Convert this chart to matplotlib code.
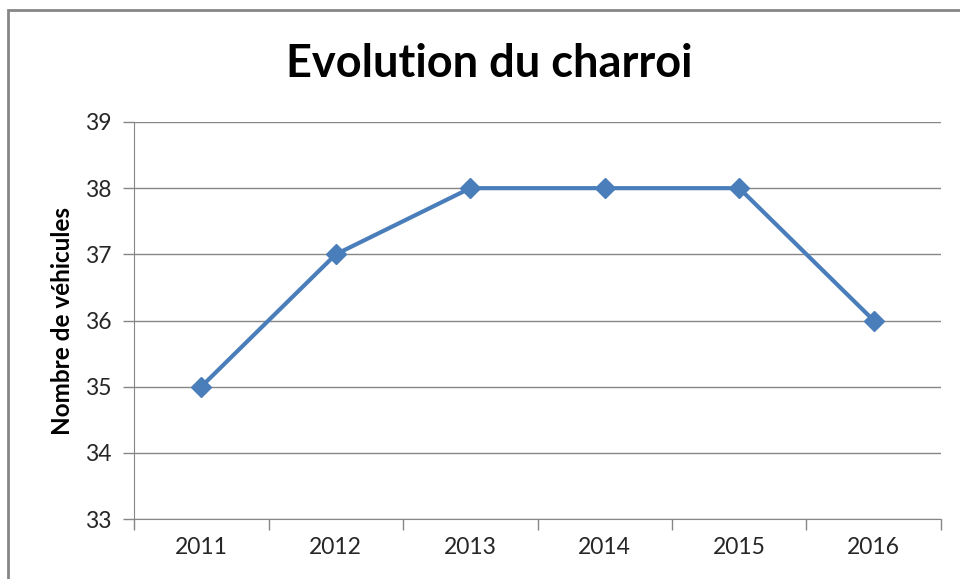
import matplotlib
matplotlib.use("Agg")
import matplotlib.pyplot as plt
from matplotlib.patches import Rectangle

annees = ["2011", "2012", "2013", "2014", "2015", "2016"]
vehicules = [35, 37, 38, 38, 38, 36]
y_ticks = [33, 34, 35, 36, 37, 38, 39]

plt.rcParams['font.family'] = ['Lato', 'DejaVu Sans']

fig = plt.figure(figsize=(9.6, 5.79), dpi=100)
ax = fig.add_axes([0.1396, 0.1036, 0.8406, 0.6857])

x = list(range(len(annees)))
ax.plot(x, vehicules, color='#4A7EBB', linewidth=3, marker='D',
        markersize=10, markerfacecolor='#4A7EBB', markeredgecolor='#4A7EBB',
        zorder=3)

ax.set_xlim(-0.5, len(annees) - 0.5)
ax.set_ylim(33, 39)
ax.set_yticks(y_ticks)
ax.set_yticklabels([str(v) for v in y_ticks], fontsize=16.5, color='#262626')
ax.set_xticks(x)
ax.set_xticklabels(annees, fontsize=16.5, color='#262626')
ax.tick_params(axis='x', length=0, pad=13)
ax.set_xticks([i - 0.5 for i in range(len(annees) + 1)], minor=True)
ax.tick_params(axis='x', which='minor', length=8, color='#868686', width=1)
ax.tick_params(axis='y', length=8, color='#868686', width=1, pad=8)

ax.grid(axis='y', color='#868686', linewidth=1)
ax.set_axisbelow(True)
for s in ['top', 'right']:
    ax.spines[s].set_visible(False)
ax.spines['left'].set_color('#868686')
ax.spines['bottom'].set_color('#868686')

ax.set_ylabel("Nombre de véhicules", fontsize=17.5, fontweight='bold', labelpad=8)
fig.text(0.51, 0.89, "Evolution du charroi", fontsize=32.5, fontweight='bold',
         ha='center', va='center')

# cadre du graphique
fig.patches.append(Rectangle((8 / 960, -0.1), 1.1, 1 - 10 / 579 + 0.1,
                             transform=fig.transFigure, fill=False,
                             edgecolor='#868686', linewidth=2))

fig.savefig("out.png", dpi=100)
